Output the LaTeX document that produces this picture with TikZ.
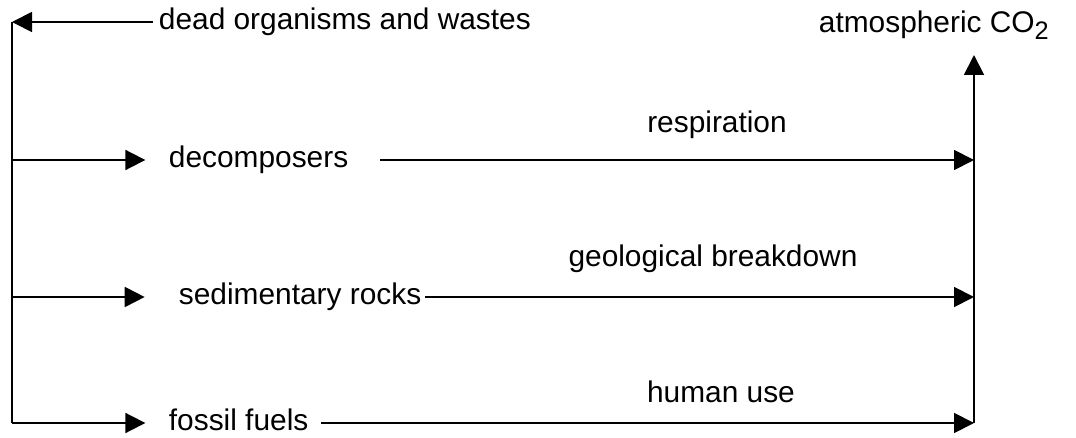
\documentclass[tikz,border=0pt]{standalone}
\usepackage{fontspec}
\setmainfont{Liberation Sans}
\usetikzlibrary{arrows.meta,positioning,calc}

\begin{document}
\begin{tikzpicture}[
  x=0.75pt,
  y=-0.75pt,
  line width=1.4pt,
  lab/.style={font=\fontsize{22.4}{26}\selectfont, inner sep=0pt, anchor=base west},
  flow/.style={-{Triangle[length=15pt,width=15pt]}}
]
\useasboundingbox (0,0) rectangle (1076,438);

% frame corners and rows
\coordinate (lt) at (12,22);
\coordinate (lb) at (12,423);
\coordinate (rt) at (974,55);
\coordinate (rb) at (974,423);
\coordinate (r1) at (0,160);
\coordinate (r2) at (0,297);

% pools
\node[lab] (dead) at (158,30) {dead organisms and wastes};
\node[lab] (dec) at (168,168) {decomposers};
\node[lab] (sed) at (178,305) {sedimentary rocks};
\node[lab] (fos) at (168,431) {fossil fuels};
\node[lab] (co2) at (818,33) {atmospheric CO\raisebox{-0.4ex}{\fontsize{19}{20}\selectfont 2}};

% process labels
\node[lab, anchor=base] (resp) at (717,133) {respiration};
\node[lab, anchor=base] (geo) at (713,267) {geological breakdown};
\node[lab, anchor=base] (hum) at (721,403) {human use};

% left side
\draw[flow] ([xshift=-4pt]dead.west |- lt) -- (lt);
\draw (lt) -- (lb);
\draw[flow] (lt |- r1) -- ([xshift=-17pt]dec.west |- r1);
\draw[flow] (lt |- r2) -- ([xshift=-25pt]sed.west |- r2);
\draw[flow] (lb) -- ([xshift=-17pt]fos.west |- lb);

% right side
\draw[flow] ([xshift=23pt]dec.east |- r1) -- (rt |- r1);
\draw[flow] ([xshift=2pt]sed.east |- r2) -- (rt |- r2);
\draw[flow] ([xshift=9pt]fos.east |- rb) -- (rb);
\draw[flow] (rb) -- (rt);
\end{tikzpicture}
\end{document}
